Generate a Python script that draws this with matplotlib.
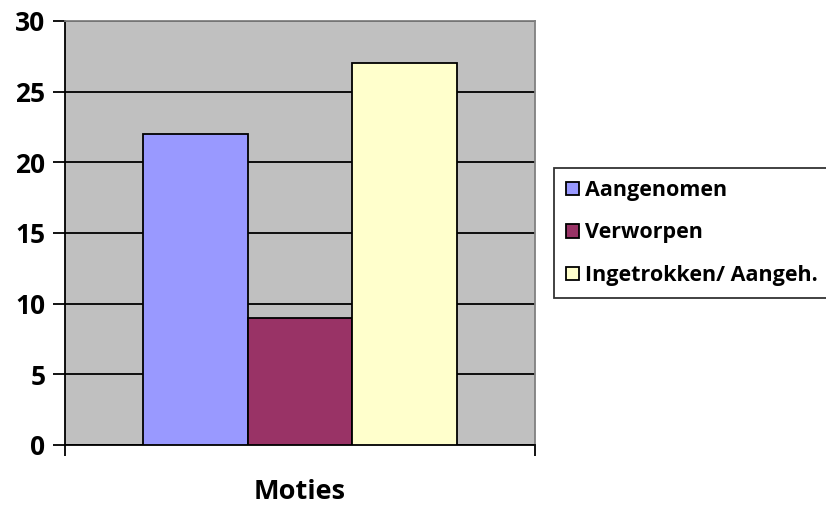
import numpy as np
import matplotlib.pyplot as plt

plt.rc("font", family=["Open Sans", "DejaVu Sans"], weight="bold")

series = ["Aangenomen", "Verworpen", "Ingetrokken/ Aangeh."]
values = [22, 9, 27]
colors = ["#9999FF", "#993366", "#FFFFCC"]
category = "Moties"

fig = plt.figure(figsize=(8.26, 5.07), dpi=100)
ax = fig.add_axes([0.0787, 0.1223, 0.569, 0.8363])
ax.set_facecolor("#C0C0C0")

width = 0.2228
offsets = np.array([-1, 0, 1]) * width
for off, v, c, name in zip(offsets, values, colors, series):
    ax.bar(off, v, width=width, color=c, edgecolor="black", linewidth=1.3,
           label=name, zorder=3)

ax.set_xlim(-0.5, 0.5)
ax.set_ylim(0, 30)
ax.set_yticks(np.arange(0, 31, 5))
ax.set_yticklabels([str(t) for t in range(0, 31, 5)], fontweight="bold")
ax.yaxis.grid(True, color="black", linewidth=1.3, zorder=1)
ax.set_axisbelow(True)
ax.set_xticks([-0.5, 0.5])
ax.set_xticklabels(["", ""])
ax.tick_params(axis="x", length=8, width=1.3, direction="out")
ax.tick_params(axis="y", length=9, width=1.3, labelsize=19, pad=5)

for s in ["left", "bottom"]:
    ax.spines[s].set_linewidth(1.3)
    ax.spines[s].set_color("black")
for s in ["top", "right"]:
    ax.spines[s].set_linewidth(1.3)
    ax.spines[s].set_color("#808080")

ax.set_xlabel(category, fontsize=19.5, fontweight="bold", labelpad=13)

leg = ax.legend(loc="center left", bbox_to_anchor=(1.04, 0.5),
                prop={"size": 15.5, "weight": "bold"},
                frameon=True, fancybox=False, edgecolor="black",
                handlelength=0.6, handleheight=0.6, handletextpad=0.3,
                labelspacing=1.0, borderpad=0.55, borderaxespad=0)
leg.get_frame().set_linewidth(1.3)

fig.savefig("out.png", dpi=100)
